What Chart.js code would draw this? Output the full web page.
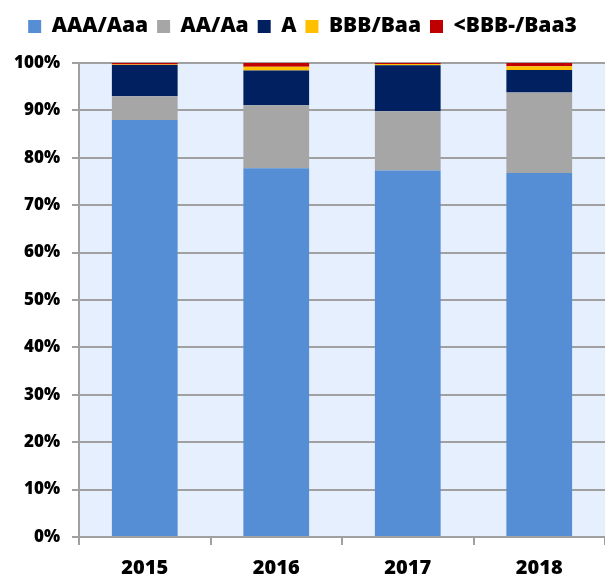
<!DOCTYPE html>
<html>
<head>
<meta charset="utf-8">
<script src="https://cdn.jsdelivr.net/npm/chart.js@4"></script>
<style>
html,body{margin:0;padding:0;background:#fff;}
#wrap{width:605px;height:578px;position:relative;}
</style>
</head>
<body>
<div id="wrap"><canvas id="c" width="605" height="578"></canvas></div>
<script>
const years = ['2015', '2016', '2017', '2018'];
const seriesNames = ['AAA/Aaa', 'AA/Aa', 'A', 'BBB/Baa', '<BBB-/Baa3'];
const aaa = [88.0, 77.8, 77.3, 76.8];
const aa = [5.0, 13.3, 12.5, 17.0];
const aRating = [6.6, 7.3, 9.7, 4.7];
const bbb = [0.1, 0.8, 0.3, 0.8];
const belowBbb = [0.3, 0.8, 0.2, 0.7];
const yTicks = [0, 10, 20, 30, 40, 50, 60, 70, 80, 90, 100];

const colors = ['#558ED5', '#A6A6A6', '#002060', '#FFC000', '#C00000'];
const values = [aaa, aa, aRating, bbb, belowBbb];

const bgPlugin = {
  id: 'plotBg',
  afterInit(chart) {
    const lg = chart.legend;
    if (lg) {
      const orig = lg.fit.bind(lg);
      lg.fit = function () { orig(); this.height = 56; };
    }
  },
  beforeDraw(chart) {
    const {ctx, chartArea: a} = chart;
    ctx.save();
    ctx.fillStyle = '#E6EFFD';
    ctx.fillRect(a.left, a.top, a.right - a.left, a.bottom - a.top);
    ctx.restore();
  }
};

const fontFam = '"Open Sans", Lato, sans-serif';

new Chart(document.getElementById('c'), {
  type: 'bar',
  data: {
    labels: years,
    datasets: seriesNames.map((n, i) => ({
      label: n,
      data: values[i],
      backgroundColor: colors[i],
      borderWidth: 0,
      categoryPercentage: 0.5,
      barPercentage: 1.0
    }))
  },
  options: {
    responsive: false,
    animation: false,
    layout: {padding: {left: 0, right: 0, top: 7, bottom: 0}},
    plugins: {
      legend: {
        position: 'top',
        labels: {
          boxWidth: 13,
          boxHeight: 13,
          padding: 9,
          color: '#000',
          font: {family: fontFam, size: 21, weight: '800'}
        }
      },
      tooltip: {enabled: false}
    },
    scales: {
      x: {
        stacked: true,
        afterFit(scale) { scale.height = 41; },
        grid: {
          offset: true,
          drawOnChartArea: false,
          drawTicks: true,
          tickLength: 8,
          color: '#A0A0A0',
          lineWidth: 2
        },
        border: {color: '#A0A0A0', width: 2},
        ticks: {
          color: '#000',
          padding: 11,
          font: {family: fontFam, size: 20, weight: '800'}
        }
      },
      y: {
        stacked: true,
        min: 0,
        max: 100,
        afterBuildTicks(scale) { scale.ticks = yTicks.map(v => ({value: v})); },
        afterFit(scale) { scale.width = 79; },
        grid: {
          color: '#A0A0A0',
          lineWidth: 2,
          tickLength: 7
        },
        border: {color: '#A0A0A0', width: 2},
        ticks: {
          color: '#000',
          padding: 12,
          callback: v => v + '%',
          font: {family: fontFam, size: 17, weight: '800'}
        }
      }
    }
  },
  plugins: [bgPlugin]
});
</script>
</body>
</html>
